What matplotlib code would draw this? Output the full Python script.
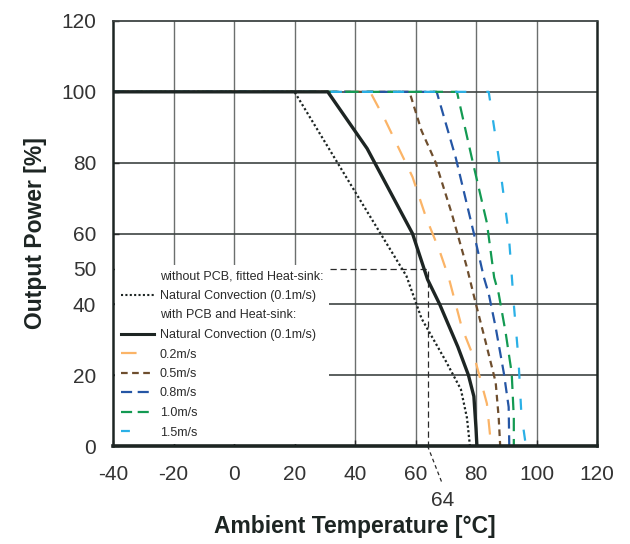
import matplotlib
matplotlib.use("Agg")
import matplotlib.pyplot as plt
from matplotlib.lines import Line2D

plt.rcParams['font.family'] = ['Liberation Sans', 'DejaVu Sans']
plt.rcParams['axes.unicode_minus'] = False

# derating curves
t_nopcb = [-40, 20, 42, 52, 57, 62, 70, 75, 77, 78]
p_nopcb = [100, 100, 69, 55, 48, 36, 24, 16, 8, 0]

t_nat = [-40, 31, 44, 59, 64, 68, 74, 77.5, 79.3, 80, 80.3]
p_nat = [100, 100, 84, 60, 47, 40, 28, 20, 14, 5, 0]

t_02 = [-40, 45, 50, 59, 63.5, 68, 71, 75.3, 80, 83.6, 85]
p_02 = [100, 100, 92, 76, 64.5, 55, 47.5, 33.5, 23.4, 12, 0]

t_05 = [-40, 58, 62, 66.7, 72, 77, 80, 83, 86.5, 87.5, 88]
p_05 = [100, 100, 89, 80, 65.6, 50.4, 40, 30, 18, 8, 0]

t_08 = [-40, 67, 73.3, 79.3, 82.6, 84.2, 86.5, 89.2, 90.8, 91]
p_08 = [100, 100, 81.4, 60, 47.6, 43, 33.5, 20.6, 11, 0]

t_10 = [-40, 73.7, 78.6, 83.6, 86, 87.5, 89.8, 91.8, 92.5, 92.5]
p_10 = [100, 100, 81.4, 63, 47.6, 43, 32, 20.6, 8, 0]

t_15 = [-40, 84.2, 87.5, 90.8, 91.5, 92.5, 94, 95, 96.5]
p_15 = [100, 100, 81.4, 60, 52, 40, 25, 9, 0]

xticks = [-40, -20, 0, 20, 40, 60, 80, 100, 120]
yticks = [0, 20, 40, 50, 60, 80, 100, 120]
ygrid = [20, 40, 60, 80, 100]
mark_t, mark_p = 64, 50

fig = plt.figure(figsize=(6.3, 5.44), dpi=100)
ax = fig.add_axes([113 / 630, 98 / 544, 484 / 630, 425 / 544])

# grid drawn by hand so the legend box can sit between grid and ticks
for v in xticks[1:-1]:
    ax.axvline(v, color='#6b6f6e', lw=1.0, zorder=0.5)
for v in ygrid:
    ax.axhline(v, color='#3e4443', lw=1.2, zorder=0.5)

ax.plot(t_nopcb, p_nopcb, color='#1d2523', lw=1.6, ls=(0, (1, 1.1)), zorder=2)
ax.plot(t_02, p_02, color='#fbb467', lw=1.6, ls=(0, (7, 6)), zorder=2)
ax.plot(t_05, p_05, color='#6e4e2e', lw=1.6, ls=(0, (3, 2.2)), zorder=2)
ax.plot(t_08, p_08, color='#2556a5', lw=1.6, ls=(0, (5, 3)), zorder=2)
ax.plot(t_10, p_10, color='#139a52', lw=1.6, ls=(0, (6, 3.5)), zorder=2)
ax.plot(t_15, p_15, color='#2bb0e6', lw=1.6, ls=(0, (5, 9)), zorder=2)
ax.plot(t_nat, p_nat, color='#1d2523', lw=2.4, zorder=2.1)

# 64 degC marker
ax.plot([31.8, mark_t, mark_t], [mark_p, mark_p, 0], color='#2a2a2a', lw=0.9,
        ls=(0, (5, 3)), zorder=2)
ax.plot([mark_t, 68.8], [0, -10.5], color='#2a2a2a', lw=0.9, ls=(0, (3, 2.5)),
        clip_on=False)
ax.text(69, -15.5, '64', ha='center', va='center', fontsize=15, color='#333333')

ax.set_xlim(-40, 120)
ax.set_ylim(0, 120)
ax.set_xticks(xticks)
ax.set_yticks(yticks)
ax.tick_params(direction='in', length=4, width=1, colors='#2a2a2a',
               labelsize=15, labelcolor='#333333')
ax.tick_params(axis='x', pad=14)
ax.tick_params(axis='y', pad=12)

for s in ['left', 'right']:
    ax.spines[s].set_linewidth(1.8)
    ax.spines[s].set_color('#1d2523')
ax.spines['top'].set_linewidth(1.3)
ax.spines['top'].set_color('#3e4443')
ax.spines['bottom'].set_linewidth(2.6)
ax.spines['bottom'].set_color('#1d2523')

ax.set_xlabel('Ambient Temperature [°C]', fontsize=16.5, fontweight='bold',
              color='#1d2523', labelpad=22)
ax.set_ylabel('Output Power [%]', fontsize=16.5, fontweight='bold',
              color='#1d2523', labelpad=10)

blank = Line2D([], [], color='none')
handles = [
    blank,
    Line2D([], [], color='#1d2523', lw=1.5, ls=(0, (1, 1.1))),
    blank,
    Line2D([], [], color='#1d2523', lw=2.2),
    Line2D([], [], color='#fbb467', lw=1.6, ls=(0, (7, 9))),
    Line2D([], [], color='#6e4e2e', lw=1.6, ls=(0, (3, 2))),
    Line2D([], [], color='#2556a5', lw=1.6, ls=(0, (5, 2.5))),
    Line2D([], [], color='#139a52', lw=1.6, ls=(0, (5, 2.5))),
    Line2D([], [], color='#2bb0e6', lw=1.6, ls=(0, (4, 12))),
]
labels = [
    'without PCB, fitted Heat-sink:',
    'Natural Convection (0.1m/s)',
    'with PCB and Heat-sink:',
    'Natural Convection (0.1m/s)',
    '0.2m/s', '0.5m/s', '0.8m/s', '1.0m/s', '1.5m/s',
]
leg = ax.legend(handles, labels, loc='lower left', fontsize=9,
                frameon=True, facecolor='white', edgecolor='none',
                framealpha=1, fancybox=False, handlelength=2.7,
                handletextpad=0.45, labelspacing=0.6, borderpad=0.45,
                borderaxespad=0.15)
for txt in leg.get_texts():
    txt.set_color('#2a2a2a')
leg.set_zorder(2.2)

fig.savefig('out.png', dpi=100)
